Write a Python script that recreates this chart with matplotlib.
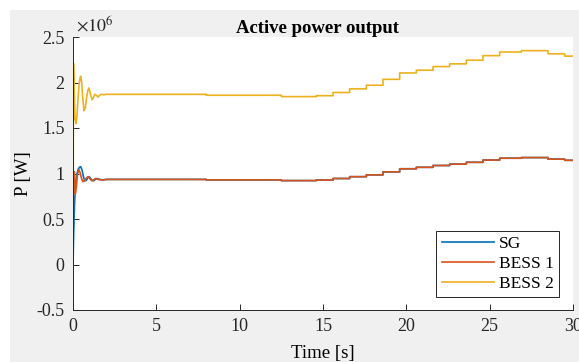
import numpy as np
import matplotlib.pyplot as plt
from matplotlib.patches import Rectangle

plt.rcParams['font.family'] = ['Liberation Serif', 'DejaVu Serif']
plt.rcParams['mathtext.fontset'] = 'stix'
plt.rcParams['axes.unicode_minus'] = False

# start-up transients (time [s], power [MW])
t_sg = [0, 0.04, 0.1, 0.16, 0.24, 0.32, 0.4, 0.46, 0.54, 0.62, 0.7, 0.8, 0.9, 0.96,
        1.04, 1.14, 1.24, 1.34, 1.46, 1.6, 1.8, 2.0]
p_sg = [0, 0.35, 0.7, 0.9, 1.0, 1.05, 1.07, 1.075, 1.04, 0.97, 0.92, 0.925, 0.955, 0.965,
        0.95, 0.925, 0.92, 0.935, 0.945, 0.935, 0.93, 0.935]
t_b1 = [0, 0.03, 0.08, 0.14, 0.2, 0.26, 0.32, 0.36, 0.44, 0.52, 0.6, 0.7, 0.8, 0.9, 0.96,
        1.04, 1.14, 1.24, 1.34, 1.46, 1.6, 1.8, 2.0]
p_b1 = [-0.05, 0.9, 1.02, 0.78, 0.85, 0.98, 1.03, 1.04, 1.0, 0.94, 0.91, 0.92, 0.95, 0.965,
        0.96, 0.935, 0.92, 0.93, 0.945, 0.94, 0.93, 0.93, 0.935]
t_b2 = [0, 0.03, 0.07, 0.12, 0.18, 0.24, 0.3, 0.36, 0.42, 0.46, 0.52, 0.58, 0.66, 0.74,
        0.82, 0.9, 0.96, 1.04, 1.14, 1.22, 1.3, 1.4, 1.5, 1.6, 1.7, 1.85, 2.0]
p_b2 = [0, 2.21, 1.95, 1.6, 1.55, 1.64, 1.82, 1.97, 2.05, 2.07, 2.0, 1.84, 1.69, 1.72,
        1.84, 1.92, 1.94, 1.88, 1.81, 1.83, 1.87, 1.86, 1.84, 1.86, 1.87, 1.865, 1.87]

# stepwise dispatch after the transient
t_steps = [2.0, 8.0, 12.5, 14.6, 15.6, 16.6, 17.6, 18.6, 19.6, 20.6, 21.6, 22.6,
           23.6, 24.6, 25.6, 26.9, 28.5, 29.5, 30.0]
p_b2_steps = [1.87, 1.86, 1.845, 1.855, 1.89, 1.93, 1.97, 2.035, 2.105, 2.135, 2.175,
              2.205, 2.245, 2.295, 2.335, 2.35, 2.315, 2.29, 2.29]
p_b1_steps = [0.935, 0.93, 0.922, 0.928, 0.945, 0.965, 0.985, 1.018, 1.052, 1.068, 1.088,
              1.103, 1.123, 1.148, 1.168, 1.175, 1.158, 1.145, 1.145]
p_sg_steps = [0.935, 0.93, 0.922, 0.928, 0.945, 0.965, 0.985, 1.018, 1.052, 1.068, 1.088,
              1.103, 1.123, 1.148, 1.168, 1.175, 1.158, 1.145, 1.145]

y_ticks = [-0.5, 0, 0.5, 1, 1.5, 2, 2.5]
y_labels = ['-0.5', '0', '0.5', '1', '1.5', '2', '2.5']
x_ticks = [0, 5, 10, 15, 20, 25, 30]

colors = {'SG': '#0072BD', 'BESS 1': '#D95319', 'BESS 2': '#EDB120'}

fig = plt.figure(figsize=(5.79, 3.62), dpi=100, facecolor='white')
fig.patches.append(Rectangle((10 / 579, 0), 1, 352 / 362, transform=fig.transFigure,
                             facecolor='#f0f0f0', edgecolor='none', zorder=-10))
ax = fig.add_axes([73 / 579, 1 - 310 / 362, 500 / 579, 273 / 362])


def series(t0, p0, ps):
    t = np.concatenate([t0, np.repeat(t_steps[1:], 2)])
    p = np.concatenate([p0, np.column_stack([ps[:-1], ps[1:]]).ravel()])
    return t, np.array(p) * 1e6


for name, t0, p0, ps in [('SG', t_sg, p_sg, p_sg_steps),
                         ('BESS 1', t_b1, p_b1, p_b1_steps),
                         ('BESS 2', t_b2, p_b2, p_b2_steps)]:
    t, p = series(t0, p0, ps)
    ax.plot(t, p, color=colors[name], lw=1.2, label=name)

ax.set_xlim(0, 30)
ax.set_ylim(-0.5e6, 2.5e6)
ax.set_xticks(x_ticks)
ax.set_yticks([v * 1e6 for v in y_ticks])
ax.set_yticklabels(y_labels)
ax.tick_params(direction='in', length=4, labelsize=13, colors='#262626', width=0.7)
ax.tick_params(axis='y', pad=6)
ax.tick_params(axis='x', pad=6)
for s in ['top', 'right']:
    ax.spines[s].set_visible(False)
for s in ['left', 'bottom']:
    ax.spines[s].set_color('#262626')
    ax.spines[s].set_linewidth(0.7)

ax.set_title('Active power output', fontsize=13.5, fontweight='bold', pad=2.5, x=0.49)
ax.set_xlabel('Time [s]', fontsize=13.5, labelpad=7)
ax.set_ylabel('P [W]', fontsize=13.5, labelpad=3)
ax.text(0.006, 1.005, r'$\times10^{6}$', transform=ax.transAxes, fontsize=13,
        color='#262626', ha='left', va='bottom')

leg = ax.legend(loc='lower right', bbox_to_anchor=(0.972, 0.048), borderaxespad=0,
                fontsize=12.5, frameon=True, fancybox=False, edgecolor='#262626',
                framealpha=1, handlelength=3.0, borderpad=0.3, labelspacing=0.2,
                handletextpad=0.3)
leg.get_frame().set_linewidth(0.7)

fig.savefig('out.png', dpi=100, facecolor=fig.get_facecolor())
